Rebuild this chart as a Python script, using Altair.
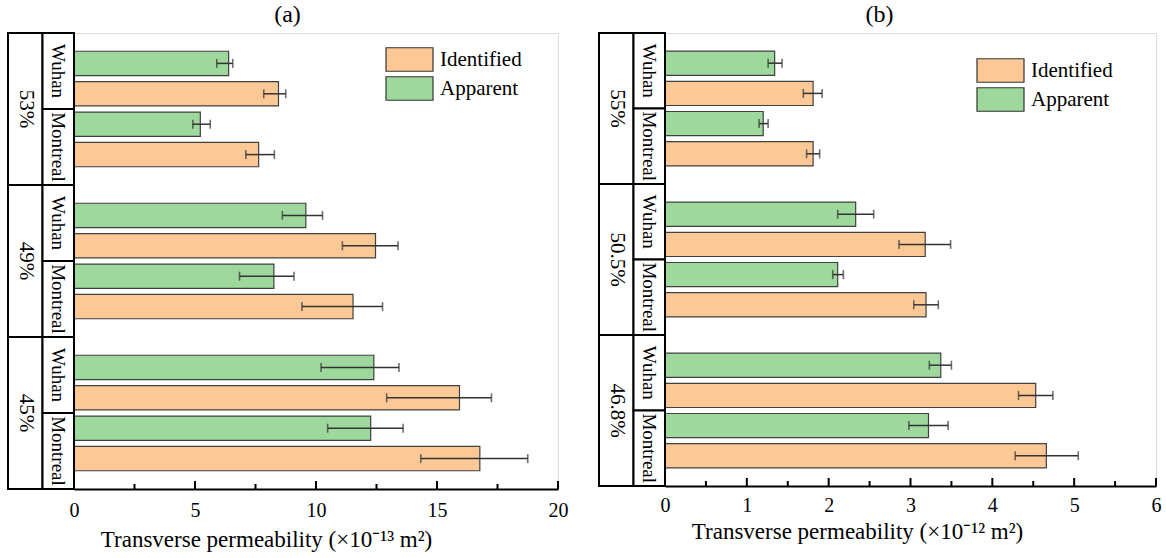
import altair as alt
import pandas as pd

# ---------------- data ----------------
groups_a = ["53%", "49%", "45%"]
groups_b = ["55%", "50.5%", "46.8%"]
cities = ["Wuhan", "Montreal"]
series = ["Apparent", "Identified"]          # order inside each city band (top to bottom)
legend_order = ["Identified", "Apparent"]
colors = ["#FCC896", "#9ED89D"]

# per group: Wuhan-Apparent, Wuhan-Identified, Montreal-Apparent, Montreal-Identified
a_val = [6.39, 8.45, 5.22, 7.63, 9.58, 12.46, 8.26, 11.53, 12.39, 15.93, 12.26, 16.77]
a_lo = [5.90, 7.84, 4.91, 7.10, 8.61, 11.09, 6.84, 9.42, 10.21, 12.92, 10.48, 14.33]
a_hi = [6.56, 8.75, 5.63, 8.28, 10.27, 13.39, 9.09, 12.75, 13.43, 17.25, 13.60, 18.75]

b_val = [1.34, 1.81, 1.20, 1.81, 2.33, 3.18, 2.11, 3.19, 3.37, 4.53, 3.22, 4.66]
b_lo = [1.26, 1.69, 1.15, 1.73, 2.11, 2.86, 2.05, 3.04, 3.23, 4.32, 2.98, 4.28]
b_hi = [1.43, 1.92, 1.26, 1.89, 2.55, 3.49, 2.18, 3.34, 3.50, 4.74, 3.46, 5.05]

major_a = [0, 5, 10, 15, 20]
minor_a = [2.5, 7.5, 12.5, 17.5]
major_b = [0, 1, 2, 3, 4, 5, 6]
minor_b = [0.5, 1.5, 2.5, 3.5, 4.5, 5.5]

title_a = "Transverse permeability (×10⁻¹³ m²)"
title_b = "Transverse permeability (×10⁻¹² m²)"

FONT = "Liberation Serif"


def make_panel(groups, val, lo, hi, major, minor, width, height, ptitle, xtitle,
               legx, legy, title_y, label_pad):
    rows = []
    i = 0
    for g, grp in enumerate(groups):
        for c, city in enumerate(cities):
            for s, ser in enumerate(series):
                center = g * 5 + c * 2 + s + 1
                rows.append(dict(group=grp, city=city, series=ser, value=val[i],
                                 lo=lo[i], hi=hi[i], yc=center,
                                 y0=center - 0.4, y1=center + 0.4))
                i += 1
    df = pd.DataFrame(rows)
    grp_df = pd.DataFrame([dict(label=grp, y0=g * 5, y1=g * 5 + 5, ym=g * 5 + 2.5)
                           for g, grp in enumerate(groups)])
    city_df = pd.DataFrame([dict(label=city, y0=g * 5 + c * 2.5, y1=g * 5 + c * 2.5 + 2.5,
                                 ym=g * 5 + c * 2.5 + 1.25)
                            for g in range(len(groups)) for c, city in enumerate(cities)])

    xscale = alt.Scale(domain=[major[0], major[-1]], nice=False, zero=True)
    yscale = alt.Scale(domain=[0, 15], reverse=True, nice=False, zero=False)
    xaxis = alt.Axis(values=major, format="d", title=xtitle, grid=False, ticks=False,
                     tickSize=0, labelFlush=False, labelFontSize=20, labelFont=FONT,
                     labelColor="black", labelPadding=label_pad, domainColor="black",
                     domainWidth=2, titleFont=FONT, titleFontSize=23,
                     titleFontWeight="normal", titleColor="black", titleX=192,
                     titleY=title_y, titleAlign="center", titleBaseline="middle")

    def X(field):
        return alt.X(field, scale=xscale, axis=xaxis)

    bars = alt.Chart(df).mark_rect(stroke="#404040", strokeWidth=1.2).encode(
        x=X("value:Q"),
        x2=alt.datum(0),
        y=alt.Y("y0:Q", scale=yscale, axis=None),
        y2="y1:Q",
        color=alt.Color("series:N",
                        scale=alt.Scale(domain=legend_order, range=colors),
                        legend=alt.Legend(title=None, orient="none", direction="vertical",
                                          legendX=legx, legendY=legy,
                                          symbolType="M-2,-1H2V1H-2Z",
                                          symbolSize=552, symbolStrokeColor="#333333",
                                          symbolStrokeWidth=1.2, symbolOpacity=1,
                                          labelFont=FONT, labelFontSize=21,
                                          labelColor="black", labelOffset=18,
                                          rowPadding=0, padding=0)),
    )
    err = alt.Chart(df).mark_rule(color="#333333", strokeWidth=1.5).encode(
        x=X("lo:Q"), x2="hi:Q", y=alt.Y("yc:Q", scale=yscale, axis=None))
    cap_lo = alt.Chart(df).mark_tick(orient="vertical", size=9, thickness=1.6,
                                     color="#333333").encode(
        x=X("lo:Q"), y=alt.Y("yc:Q", scale=yscale, axis=None))
    cap_hi = alt.Chart(df).mark_tick(orient="vertical", size=9, thickness=1.6,
                                     color="#333333").encode(
        x=X("hi:Q"), y=alt.Y("yc:Q", scale=yscale, axis=None))

    tick_major = alt.Chart(pd.DataFrame({"t": major})).mark_rule(
        color="black", strokeWidth=2).encode(
        x=X("t:Q"), y=alt.value(height), y2=alt.value(height - 8))
    tick_minor = alt.Chart(pd.DataFrame({"t": minor})).mark_rule(
        color="black", strokeWidth=2).encode(
        x=X("t:Q"), y=alt.value(height), y2=alt.value(height - 5))

    grp_box = alt.Chart(grp_df).mark_rect(fill="white", stroke="black", strokeWidth=2).encode(
        x=alt.value(-66), x2=alt.value(-31.5),
        y=alt.Y("y0:Q", scale=yscale, axis=None), y2="y1:Q")
    city_box = alt.Chart(city_df).mark_rect(fill="white", stroke="black", strokeWidth=2).encode(
        x=alt.value(-31.5), x2=alt.value(0),
        y=alt.Y("y0:Q", scale=yscale, axis=None), y2="y1:Q")
    grp_txt = alt.Chart(grp_df).mark_text(angle=90, font=FONT, fontSize=21, color="black",
                                          align="center", baseline="middle").encode(
        x=alt.value(-48.5), y=alt.Y("ym:Q", scale=yscale, axis=None), text="label:N")
    city_txt = alt.Chart(city_df).mark_text(angle=90, font=FONT, fontSize=19, color="black",
                                            align="center", baseline="middle").encode(
        x=alt.value(-16.5), y=alt.Y("ym:Q", scale=yscale, axis=None), text="label:N")

    return alt.layer(bars, err, cap_lo, cap_hi, tick_major, tick_minor,
                     grp_box, city_box, grp_txt, city_txt).properties(
        width=width, height=height,
        title=alt.TitleParams(ptitle, font=FONT, fontSize=24, fontWeight="normal",
                              color="black", anchor="middle", frame="bounds", offset=5))


pa = make_panel(groups_a, a_val, a_lo, a_hi, major_a, minor_a, 484, 456, "(a)", title_a,
                323, 14, 50, 11)
pb = make_panel(groups_b, b_val, b_lo, b_hi, major_b, minor_b, 491, 453, "(b)", title_b,
                323, 25, 45, 9)

chart = alt.hconcat(pa, pb, spacing=28).resolve_scale(color="independent").properties(
    padding={"left": 6, "top": 2, "right": 0, "bottom": 0},
    background="white",
).configure_view(stroke="black", strokeWidth=2).configure(font=FONT)

chart.save("out.html", embed_options={"renderer": "svg", "actions": False})
